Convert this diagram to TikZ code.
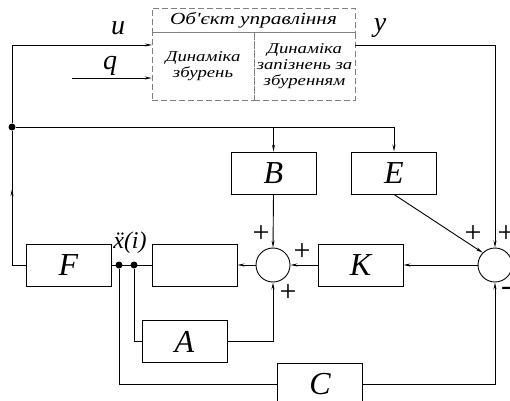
\documentclass[tikz,border=0pt]{standalone}
\usepackage{fontspec}
\setmainfont{Liberation Serif}
\newfontfamily\objfont[FakeStretch=1.25]{Liberation Serif}
\usepackage{tikz}
\usetikzlibrary{arrows.meta, positioning, calc}

\begin{document}
\begin{tikzpicture}[x=1pt, y=-1pt, >={Stealth[length=7pt,width=3pt]}, line width=0.9pt,
    blk/.style={draw, minimum width=85pt, minimum height=42pt, inner sep=0pt, font=\fontsize{32}{32}\selectfont\itshape},
    summ/.style={draw, circle, minimum size=34pt, inner sep=0pt},
    jdot/.style={circle, fill, inner sep=0pt, minimum size=7pt},
    objpart/.style={draw=gray, dash pattern=on 6pt off 3pt, line width=0.7pt, inner sep=0pt, align=center, font=\objfont\fontsize{15}{16}\selectfont\itshape},
    sig/.style={font=\fontsize{28}{28}\selectfont\itshape},
    sgn/.style={font=\fontsize{30}{30}\selectfont, inner sep=0pt}]
        \useasboundingbox (0,0) rectangle (510,400);
        % object of control
        \node[objpart, minimum width=203pt, minimum height=24pt, font=\objfont\fontsize{17}{17}\selectfont\itshape] (obj) at (253.5,20) {Об'єкт управління};
        \node[objpart, minimum width=102pt, minimum height=68pt] (dyn) at (203,66) {Динаміка\\збурень};
        \node[objpart, minimum width=101pt, minimum height=68pt] (del) at (304.5,66) {Динаміка\\запізнень за\\збуренням};
        \node[sig] (ulab) at (118,28) {u};
        \node[sig] (qlab) at (110,66) {q};
        \node[sig] (ylab) at (380,28) {y};
        % blocks
        \node[blk] (B) at (273.5,173) {B};
        \node[blk] (E) at (394,173) {E};
        \node[blk] (K) at (360.5,265) {K};
        \node[blk] (M) at (194.5,265) {};
        \node[blk] (F) at (68.5,265) {F};
        \node[blk] (A) at (184.5,341.5) {A};
        \node[blk] (C) at (320,384) {C};
        \node[summ] (sl) at (273,265) {};
        \node[summ] (sr) at (495,265) {};
        \node[jdot] (j0) at (12,127) {};
        \node[jdot] (d1) at (119,265) {};
        \node[jdot] (d2) at (134,265) {};
        \node[font=\fontsize{24}{24}\selectfont\itshape] (xlab) at (130,243) {\"x(i)};
        \coordinate (uin) at (152,45);
        \coordinate (qs) at (72,78);
        \coordinate (fl) at (12,265);
        % connections
        \draw[->] (j0) |- (uin);
        \draw[->] (qs) -- (qs -| dyn.west);
        \draw[->] (del.east |- uin) -| (sr.north);
        \draw[->] (j0) -| (E.north);
        \draw[->] (B.north |- j0) -- (B.north);
        \draw (F.west) -- (fl) -- (j0);
        \draw[->] (fl) -- ($(fl)!0.55!(j0)$);
        \draw (F.east) -- (M.west);
        \draw[->] (sl.west) -- (M.east);
        \draw[->] (B.south) -- (sl.north);
        \draw[->] (K.west) -- (sl.east);
        \draw[->] (sr.west) -- (K.east);
        \draw[->] (E.south) -- (sr.north west);
        \draw (d2) |- (A.west);
        \draw[->] (A.east) -| (sl.south);
        \draw (d1) |- (C.west);
        \draw[->] (C.east) -| (sr.south);
        % signs
        \node[sgn] at (261,234) {+};
        \node[sgn] at (302,252) {+};
        \node[sgn] at (288,293) {+};
        \node[sgn] at (473,234) {+};
        \node[sgn] at (506,234) {+};
        \node[sgn] at (506,291) {-};
\end{tikzpicture}
\end{document}
